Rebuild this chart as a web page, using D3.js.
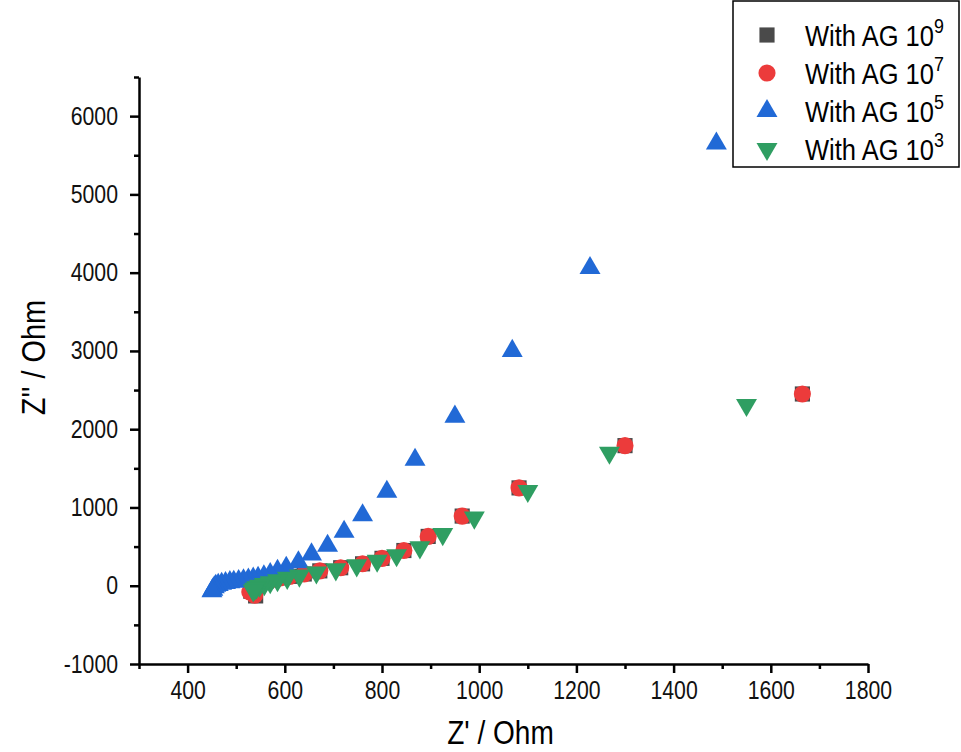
<!DOCTYPE html>
<html>
<head>
<meta charset="utf-8">
<script src="https://cdn.jsdelivr.net/npm/d3@7"></script>
<style>
  body { margin: 0; background: #fff; }
  svg { display: block; font-family: "Liberation Sans", Arial, sans-serif; }
</style>
</head>
<body>
<svg id="chart" width="961" height="752"></svg>
<script>
// --- Data (Z' / Ohm, Z'' / Ohm) ---
const ag9X = [1665, 1300, 1082, 965, 895, 845, 800, 760, 715, 672, 640, 610, 590, 575, 562, 550, 542, 537, 533, 530, 540];
const ag9Y = [2450, 1790, 1250, 890, 630, 450, 350, 280, 230, 190, 150, 120, 100, 80, 60, 40, 20, 0, -30, -70, -130];

const ag7X = [1665, 1300, 1082, 965, 895, 845, 800, 760, 715, 672, 640, 610, 590, 575, 562, 550, 542, 537, 533, 528, 538];
const ag7Y = [2450, 1790, 1250, 890, 630, 450, 350, 280, 230, 190, 150, 120, 100, 80, 60, 40, 20, 0, -30, -80, -120];

const ag5X = [1488, 1228, 1068, 950, 868, 810, 760, 722, 688, 655, 628, 603, 585, 570, 557, 545, 535, 525, 515, 505, 495, 487, 478, 470, 463, 458, 455, 452, 450];
const ag5Y = [5650, 4060, 3000, 2160, 1610, 1200, 900, 690, 510, 400, 300, 230, 190, 150, 120, 100, 90, 80, 70, 60, 50, 45, 35, 25, 10, 0, -20, -50, -70];

const ag3X = [1550, 1268, 1100, 990, 925, 878, 830, 790, 748, 705, 665, 630, 605, 585, 570, 558, 548, 542, 538, 535];
const ag3Y = [2310, 1700, 1210, 870, 660, 490, 390, 320, 260, 210, 170, 130, 100, 70, 45, 20, 0, -20, -40, -60];

const seriesNames = ["With AG 10", "With AG 10", "With AG 10", "With AG 10"];
const seriesExp = ["9", "7", "5", "3"];

const xTicks = [400, 600, 800, 1000, 1200, 1400, 1600, 1800];
const yTicks = [-1000, 0, 1000, 2000, 3000, 4000, 5000, 6000];

// --- Layout ---
const svg = d3.select("#chart");
const margin = { top: 77, right: 93, bottom: 88, left: 139 };
const width = 961 - margin.left - margin.right;
const height = 752 - margin.top - margin.bottom;
const squeeze = 0.85; // the original text is a little narrow

const g = svg.append("g").attr("transform", `translate(${margin.left},${margin.top})`);

const x = d3.scaleLinear().domain([300, 1800]).range([0, width]);
const y = d3.scaleLinear().domain([-1000, 6500]).range([height, 0]);

const plain = d => String(d);

// --- Axes (major + minor ticks) ---
const xMinor = d3.range(300, 1801, 100).filter(v => !xTicks.includes(v));
const yMinor = d3.range(-500, 6501, 1000);

g.append("g")
    .attr("transform", `translate(0,${height})`)
    .call(d3.axisBottom(x).tickValues(xMinor).tickSize(5).tickFormat(""))
    .call(a => a.select(".domain").remove());
g.append("g")
    .attr("class", "xaxis")
    .attr("transform", `translate(0,${height})`)
    .call(d3.axisBottom(x).tickValues(xTicks).tickSize(9).tickSizeOuter(0).tickPadding(8).tickFormat(plain));

g.append("g")
    .call(d3.axisLeft(y).tickValues(yMinor).tickSize(5).tickFormat(""))
    .call(a => a.select(".domain").remove());
g.append("g")
    .attr("class", "yaxis")
    .call(d3.axisLeft(y).tickValues(yTicks).tickSize(9).tickSizeOuter(0).tickFormat(plain));

g.selectAll(".domain").attr("stroke", "#000").attr("stroke-width", 2.5);
g.selectAll(".tick line").attr("stroke", "#000").attr("stroke-width", 2.5);
g.selectAll(".tick text")
    .attr("fill", "#111")
    .style("font-size", "25px")
    .attr("transform", `scale(${squeeze},1)`);
g.selectAll(".yaxis .tick text").attr("x", -21 / squeeze);

// axis titles
svg.append("text")
    .attr("transform", `translate(${margin.left + width / 2 - 3},744) scale(${squeeze},1)`)
    .attr("text-anchor", "middle")
    .style("font-size", "33px")
    .text("Z' / Ohm");
svg.append("text")
    .attr("transform", `translate(45,${margin.top + height / 2 - 13}) rotate(-90) scale(${squeeze},1)`)
    .attr("text-anchor", "middle")
    .style("font-size", "34px")
    .text("Z'' / Ohm");

// --- Series ---
const series = [
    { xs: ag9X, ys: ag9Y, type: d3.symbolSquare, size: 230, fill: "#4a4a4a", rot: 0 },
    { xs: ag7X, ys: ag7Y, type: d3.symbolCircle, size: 230, fill: "#ec3b3b", rot: 0 },
    { xs: ag5X, ys: ag5Y, type: d3.symbolTriangle, size: 190, fill: "#2169d6", rot: 0 },
    { xs: ag3X, ys: ag3Y, type: d3.symbolTriangle, size: 190, fill: "#2f9e62", rot: 180 }
];

series.forEach(s => {
    const pts = s.xs.map((v, i) => ({ x: v, y: s.ys[i] }));
    g.append("g").selectAll("path")
        .data(pts)
        .enter()
        .append("path")
        .attr("d", d3.symbol().type(s.type).size(s.size))
        .attr("transform", d => `translate(${x(d.x)},${y(d.y)}) rotate(${s.rot})`)
        .attr("fill", s.fill);
});

// --- Legend ---
const legend = svg.append("g").attr("transform", "translate(733,1)");
legend.append("rect")
    .attr("width", 226).attr("height", 166)
    .attr("fill", "#fff").attr("stroke", "#000").attr("stroke-width", 1.5);

series.forEach((s, i) => {
    const cy = 34 + i * 38;
    legend.append("path")
        .attr("d", d3.symbol().type(s.type).size(s.size))
        .attr("transform", `translate(34,${cy}) rotate(${s.rot})`)
        .attr("fill", s.fill);
    const t = legend.append("text")
        .attr("transform", `translate(72,${cy + 11}) scale(${squeeze},1)`)
        .style("font-size", "30px")
        .attr("fill", "#000");
    t.append("tspan").text(seriesNames[i]);
    t.append("tspan").attr("dy", -13).style("font-size", "21px").text(seriesExp[i]);
});
</script>
</body>
</html>
